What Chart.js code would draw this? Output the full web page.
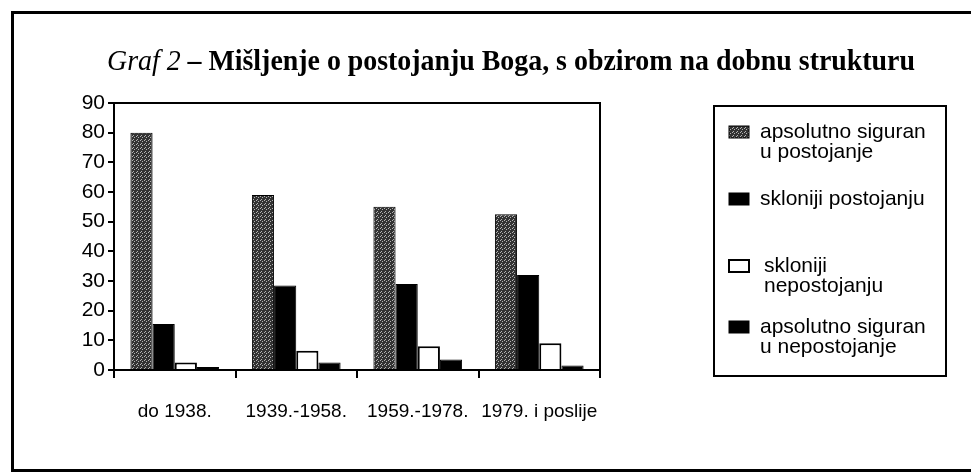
<!DOCTYPE html>
<html>
<head>
<meta charset="utf-8">
<script src="https://cdn.jsdelivr.net/npm/chart.js@4.4.0/dist/chart.umd.min.js"></script>
<style>
html,body{margin:0;padding:0;background:#fff;}
#wrap{position:relative;width:971px;height:476px;}
canvas{display:block;}
</style>
</head>
<body>
<div id="wrap"><canvas id="c" width="971" height="476"></canvas></div>
<script>
// ---- data ----
const categories = ["do 1938.", "1939.-1958.", "1959.-1978.", "1979. i poslije"];
const apsolutnoPostojanje = [80, 59, 55, 52.5];
const skloniPostojanju = [15.5, 28.5, 29, 32];
const skloniNepostojanju = [2.5, 6.5, 8, 9];
const apsolutnoNepostojanje = [1, 2.5, 3.5, 1.5];
const seriesLabels = [
  ["apsolutno siguran", "u postojanje"],
  ["skloniji postojanju"],
  ["skloniji", "nepostojanju"],
  ["apsolutno siguran", "u nepostojanje"]
];
const yTicks = [0, 10, 20, 30, 40, 50, 60, 70, 80, 90];
const titleItalic = "Graf 2";
const titleBold = " – Mišljenje o postojanju Boga, s obzirom na dobnu strukturu";

// ---- stipple pattern for first series ----
function makePattern(ctx) {
  const p = document.createElement('canvas');
  p.width = 4; p.height = 4;
  const pc = p.getContext('2d');
  pc.fillStyle = '#333333';
  pc.fillRect(0, 0, 4, 4);
  pc.fillStyle = '#b4b4b4';
  [[0,0],[2,1],[1,3]].forEach(([x,y]) => pc.fillRect(x, y, 1, 1));
  return ctx.createPattern(p, 'repeat');
}

const canvas = document.getElementById('c');
const ctx0 = canvas.getContext('2d');
const stipple = makePattern(ctx0);
const fills = [stipple, '#000000', '#ffffff', '#000000'];

const decorPlugin = {
  id: 'decor',
  beforeDraw(chart) {
    const c = chart.ctx;
    c.save();
    c.fillStyle = '#fff';
    c.fillRect(0, 0, chart.width, chart.height);
    // outer frame (right side falls outside the picture)
    c.strokeStyle = '#000';
    c.lineWidth = 3;
    c.beginPath();
    c.moveTo(985, 12.5); c.lineTo(12.5, 12.5); c.lineTo(12.5, 470.5); c.lineTo(985, 470.5);
    c.stroke();
    // title
    c.fillStyle = '#000';
    c.textBaseline = 'alphabetic';
    const size = 30;
    c.font = 'italic ' + size + 'px "Liberation Serif"';
    const w1 = c.measureText(titleItalic).width;
    c.font = 'bold ' + size + 'px "Liberation Serif"';
    const w2 = c.measureText(titleBold).width;
    const target = 808, x0 = 107, base = 70;
    const sx = target / (w1 + w2);
    c.translate(x0, base);
    c.scale(sx, 1);
    c.font = 'italic ' + size + 'px "Liberation Serif"';
    c.fillText(titleItalic, 0, 0);
    c.font = 'bold ' + size + 'px "Liberation Serif"';
    c.fillText(titleBold, w1, 0);
    c.restore();
  },
  afterDraw(chart) {
    const c = chart.ctx;
    const a = chart.chartArea;
    c.save();
    c.strokeStyle = '#000';
    c.lineWidth = 2;
    c.beginPath();
    c.moveTo(a.left, a.top); c.lineTo(a.right, a.top); c.lineTo(a.right, a.bottom);
    c.stroke();
    // legend box
    const L = 714, T = 106, R = 946, B = 376;
    c.lineWidth = 2;
    c.strokeRect(L, T, R - L, B - T);
    const rowTops = [132, 199, 266, 327];
    const textX = [760, 760, 764, 760];
    c.font = '21px "Liberation Sans"';
    c.textBaseline = 'middle';
    chart.data.datasets.forEach((ds, i) => {
      const cy = rowTops[i];
      c.fillStyle = ds.backgroundColor;
      c.fillRect(729, cy - 6, 20, 12);
      c.lineWidth = i === 2 ? 2 : 1;
      c.strokeStyle = '#000';
      c.strokeRect(729, cy - 6, 20, 12);
      c.fillStyle = '#000';
      seriesLabels[i].forEach((ln, j) => c.fillText(ln, textX[i], cy + j * 20));
    });
    c.restore();
  }
};

new Chart(canvas, {
  type: 'bar',
  data: {
    labels: categories,
    datasets: [
      { label: seriesLabels[0].join(' '), data: apsolutnoPostojanje, backgroundColor: fills[0], borderColor: '#000', borderWidth: 1 },
      { label: seriesLabels[1].join(' '), data: skloniPostojanju, backgroundColor: fills[1], borderColor: '#000', borderWidth: 1 },
      { label: seriesLabels[2].join(' '), data: skloniNepostojanju, backgroundColor: fills[2], borderColor: '#000', borderWidth: 2 },
      { label: seriesLabels[3].join(' '), data: apsolutnoNepostojanje, backgroundColor: fills[3], borderColor: '#000', borderWidth: 1 }
    ]
  },
  options: {
    responsive: false,
    animation: false,
    devicePixelRatio: 1,
    layout: { padding: { top: 103, right: 371, left: 0, bottom: 0 } },
    datasets: { bar: { categoryPercentage: 0.73, barPercentage: 1 } },
    plugins: { legend: { display: false }, title: { display: false }, tooltip: { enabled: false } },
    scales: {
      y: {
        min: 0, max: 90,
        afterBuildTicks: s => { s.ticks = yTicks.map(v => ({ value: v })); },
        afterFit: s => { s.width = 114; },
        ticks: { color: '#000', font: { family: '"Liberation Sans"', size: 21 }, padding: 3 },
        grid: { drawOnChartArea: false, drawTicks: true, tickLength: 6, color: '#000', lineWidth: 2 },
        border: { color: '#000', width: 2 }
      },
      x: {
        afterFit: s => { s.height = 106; },
        ticks: { color: '#000', font: { family: '"Liberation Sans"', size: 19 }, padding: 22, autoSkip: false, maxRotation: 0, minRotation: 0 },
        grid: { offset: true, drawOnChartArea: false, drawTicks: true, tickLength: 8, color: '#000', lineWidth: 2 },
        border: { color: '#000', width: 2 }
      }
    }
  },
  plugins: [decorPlugin]
});
</script>
</body>
</html>
